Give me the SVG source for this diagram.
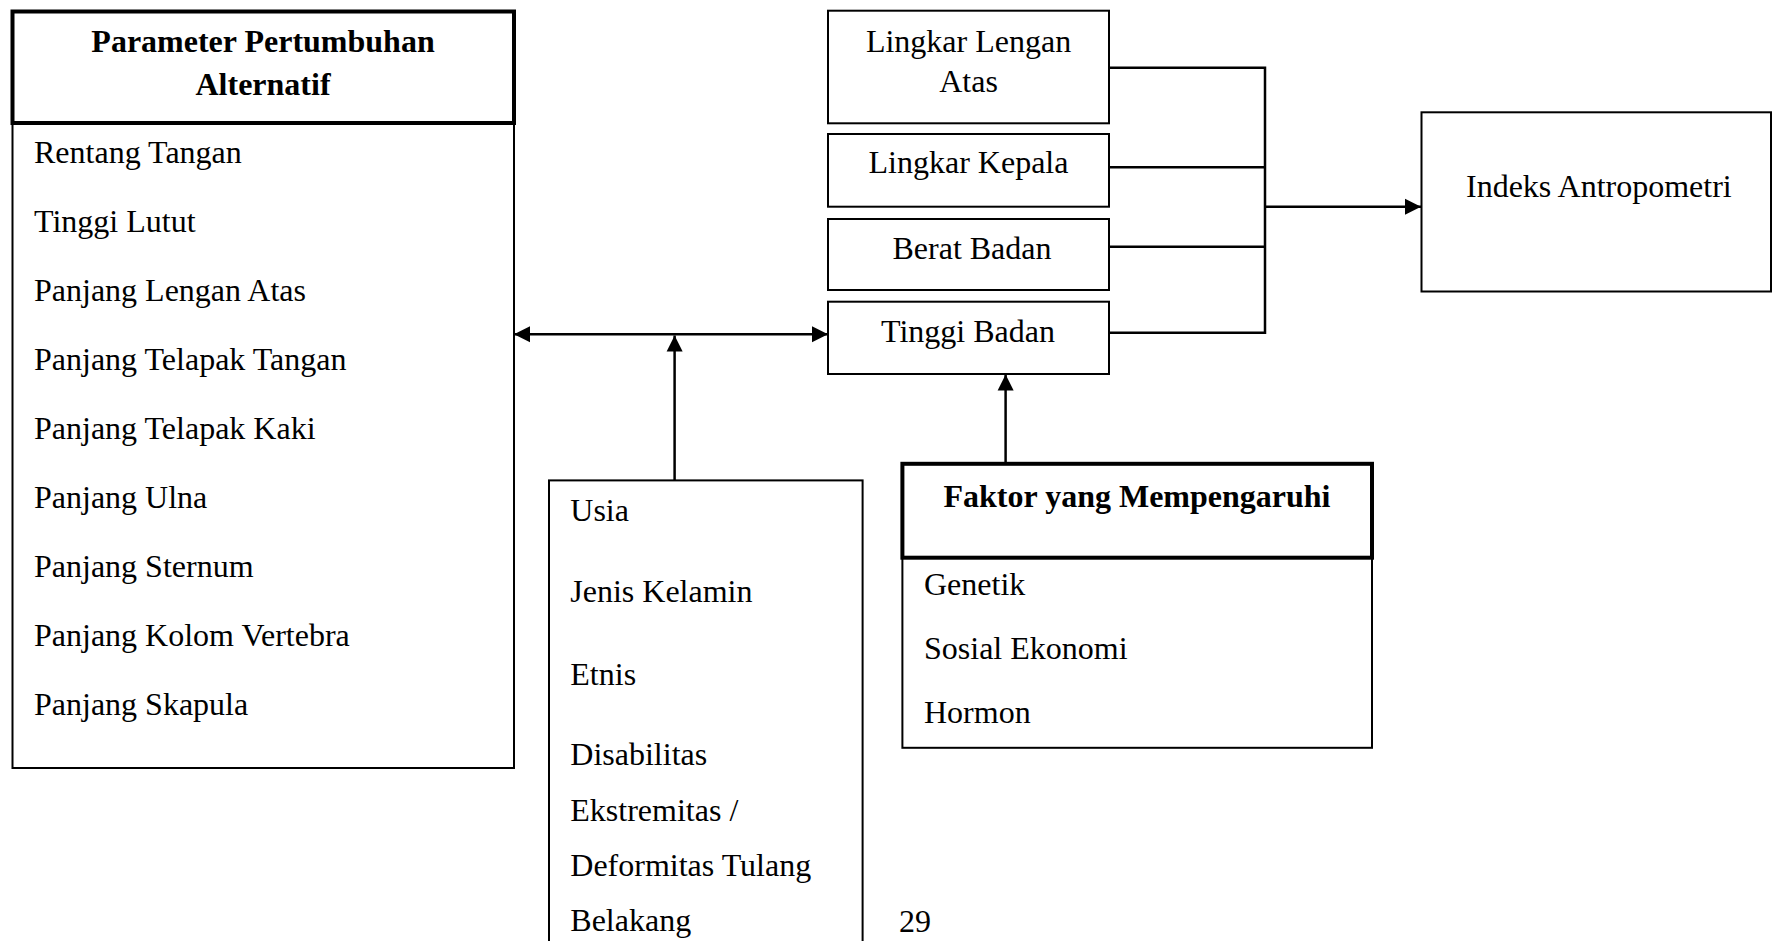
<svg xmlns="http://www.w3.org/2000/svg" width="1772" height="941" viewBox="0 0 1772 941">
<style>
text{font-family:"Liberation Serif","Times New Roman",serif;font-size:32px;fill:#000}
.b{font-weight:bold}
.c{text-anchor:middle}
.box{fill:#fff;stroke:#000;stroke-width:2}
.hdr{fill:#fff;stroke:#000;stroke-width:4}
.ln{stroke:#000;stroke-width:2.5;fill:none}
</style>
<defs>
<marker id="ah" markerWidth="18" markerHeight="18" refX="16" refY="8.5" orient="auto-start-reverse" markerUnits="userSpaceOnUse">
<path d="M0,0.5 L16,8.5 L0,16.5 z" fill="#000"/>
</marker>
</defs>
<rect width="1772" height="941" fill="#fff"/>

<g id="parameter">
<rect class="box" x="12.5" y="123" width="501.5" height="645"/>
<rect class="hdr" x="12.5" y="11.5" width="501.5" height="111.5"/>
<text class="b c" x="263" y="52">Parameter Pertumbuhan</text>
<text class="b c" x="263" y="95">Alternatif</text>
<text x="34" y="163">Rentang Tangan</text>
<text x="34" y="232">Tinggi Lutut</text>
<text x="34" y="301">Panjang Lengan Atas</text>
<text x="34" y="370">Panjang Telapak Tangan</text>
<text x="34" y="439">Panjang Telapak Kaki</text>
<text x="34" y="508">Panjang Ulna</text>
<text x="34" y="577">Panjang Sternum</text>
<text x="34" y="646">Panjang Kolom Vertebra</text>
<text x="34" y="715">Panjang Skapula</text>
</g>

<g id="lingkar-lengan">
<rect class="box" x="828" y="10.7" width="281" height="112.6"/>
<text class="c" x="968.5" y="51.7">Lingkar Lengan</text>
<text class="c" x="968.5" y="91.7">Atas</text>
</g>
<g id="lingkar-kepala">
<rect class="box" x="828" y="134" width="281" height="72.7"/>
<text class="c" x="968.5" y="173">Lingkar Kepala</text>
</g>
<g id="berat-badan">
<rect class="box" x="828" y="219" width="281" height="71"/>
<text class="c" x="972" y="259">Berat Badan</text>
</g>
<g id="tinggi-badan">
<rect class="box" x="828" y="301.7" width="281" height="72.3"/>
<text class="c" x="968" y="341.7">Tinggi Badan</text>
</g>

<g id="indeks">
<rect class="box" x="1421.5" y="112.3" width="349.5" height="179.2"/>
<text x="1466" y="196.7">Indeks Antropometri</text>
</g>

<g id="karakteristik">
<rect class="box" x="549" y="480.4" width="313.6" height="480"/>
<text x="570.3" y="520.8">Usia</text>
<text x="570.3" y="601.9">Jenis Kelamin</text>
<text x="570.3" y="684.7">Etnis</text>
<text x="570.3" y="765">Disabilitas</text>
<text x="570.3" y="821">Ekstremitas /</text>
<text x="570.3" y="876">Deformitas Tulang</text>
<text x="570.3" y="931.4">Belakang</text>
</g>

<g id="faktor">
<rect class="box" x="902.4" y="557.7" width="469.6" height="190.1"/>
<rect class="hdr" x="902.4" y="463.8" width="469.6" height="93.9"/>
<text class="b c" x="1137" y="507">Faktor yang Mempengaruhi</text>
<text x="924" y="595">Genetik</text>
<text x="924" y="658.8">Sosial Ekonomi</text>
<text x="924" y="722.6">Hormon</text>
</g>

<g id="page-number">
<text x="899" y="932">29</text>
</g>

<g id="connectors">
<line class="ln" x1="514" y1="334.3" x2="828" y2="334.3" marker-start="url(#ah)" marker-end="url(#ah)"/>
<line class="ln" x1="674.6" y1="480.4" x2="674.6" y2="335.5" marker-end="url(#ah)"/>
<line class="ln" x1="1005.6" y1="462" x2="1005.6" y2="374.5" marker-end="url(#ah)"/>
<path class="ln" d="M1109,67.7 H1265 V332.7 H1109 M1109,167.3 H1265 M1109,246.7 H1265"/>
<line class="ln" x1="1265" y1="206.7" x2="1421" y2="206.7" marker-end="url(#ah)"/>
</g>
</svg>
